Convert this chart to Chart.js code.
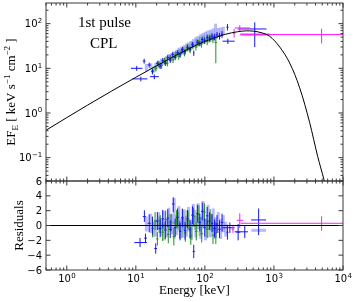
<!DOCTYPE html>
<html><head><meta charset="utf-8">
<script src="https://cdn.jsdelivr.net/npm/chart.js@4/dist/chart.umd.min.js"></script>
<style>
html,body{margin:0;padding:0;background:#fff;}
#wrap{position:relative;width:357px;height:302px;background:#fff;}
canvas{position:absolute;left:0;top:0;}
</style></head><body>
<div id="wrap"><canvas id="bot" width="357" height="302"></canvas><canvas id="top" width="357" height="302"></canvas></div>
<script>
// ---------- model curve ----------
const modelE = [0.5, 2, 10, 30, 60, 100, 200, 300, 400, 500, 650, 869, 1213, 1692, 2360, 3290, 4295, 5300, 5600];
const modelF = [0.41, 1.5, 6.3, 16, 28, 40, 58, 66, 69, 68, 63, 52, 30, 13.1, 3.65, 0.61, 0.107, 0.032, 0.022];

// ---------- spectrum points: [E, Elo, Ehi, F, Flo, Fhi] ----------
const blueTop = [
 [10.3,8.5,12.5,10.0,8.8,11.3],[11.8,9.0,14.7,5.8,5.1,6.5],[13.2,12.6,13.8,14.5,12.7,16.4],
 [15.6,14.8,16.4,11.9,10.4,13.4],[17.4,16.6,18.2,8.4,7.3,9.5],[18.5,16.0,21.5,6.5,5.7,7.3],
 [20.5,19.6,21.4,12.9,11.3,14.5],[22.5,21.5,23.5,11.2,9.7,12.7],[24.5,23.5,25.5,14.9,13.0,16.8],
 [26.7,25.5,27.9,13.0,11.3,14.7],[29.0,27.9,30.2,17.5,15.3,19.7],[31.5,30.2,32.8,15.2,13.2,17.2],
 [34.2,32.8,35.6,20.5,17.9,23.1],[37.1,35.6,38.6,17.5,15.2,19.8],[40.3,38.6,42.0,22.5,19.6,25.4],
 [43.8,42.0,45.6,20.0,17.3,22.7],[47.5,45.6,49.5,26.5,23.0,30.0],[51.6,49.5,53.8,23.5,20.3,26.7],
 [56.0,53.8,58.4,29.5,25.6,33.4],[60.8,58.4,63.4,27.0,23.3,30.7],[66.0,63.4,68.8,34.0,29.4,38.6],
 [69.0,67.5,70.5,22.0,19.0,25.0],[77.8,74.7,81.1,38.0,32.8,43.2],[84.5,81.1,88.0,36.0,31.0,41.0],
 [91.7,88.0,95.5,44.0,37.8,50.2],[99.6,95.5,103.7,41.0,35.2,46.8],[108,103.7,112.6,49.0,42.0,56.0],
 [117,112.6,122,47.0,40.0,54.0],[127,122,132,52.0,44.0,60.0],[138,132,144,50.0,42.0,58.0],
 [150,144,156,56.0,47.0,65.0],[163,156,170,53.0,44.0,62.0],[177,170,185,58.0,48.0,68.0],
 [212,205,220,83.0,70.0,98.0],[215,180,270,40.5,35.0,46.0],[527,300,780,76.0,30.0,107.0]
];
// light (thick, translucent) bars: [E, Elo, Ehi, Flo, Fhi]
const blueLightTop = [
 [14.2,14.2,14.2,8.5,12.5],[16.5,16.5,16.5,9.5,13],[19.5,19.5,19.5,9,13.5],[21.5,21.5,21.5,10,15],
 [23.5,23.5,23.5,11.5,16.5],[25.5,25.5,25.5,12,17],[28,28,28,13.5,19],[30,30,30,15,21],
 [33,33,33,15.5,22],[36,36,36,17,24],[39,39,39,18,26],[42,42,42,20,29],[46,46,46,21,31],
 [50,50,50,22,33],[54,54,54,25,36],[58,58,58,26,38],[63,63,63,28,41],[68,68,68,30,45],
 [74,74,74,33,50],[80,80,80,35,53],[87,87,87,38,58],[94,94,94,40,62],[102,102,102,42,66],
 [111,111,111,44,70],[121,121,121,47,73],[132,132,132,49,78],[143,143,143,50,100],
 [156,156,156,53,80],[170,170,170,55,82],[185,185,185,57,85],[600,320,870,57,57]
];
const greenTop = [
 [17.5,16.8,18.2,9.0,7.6,10.4],[19.5,18.7,20.3,10.0,8.5,11.5],[21.5,20.6,22.4,12.5,10.7,14.3],
 [23.6,22.6,24.6,11.5,9.8,13.2],[26.0,25.0,27.0,15.0,12.8,17.2],[28.6,27.5,29.7,13.0,11.0,15.0],
 [31.4,30.2,32.6,17.5,14.9,20.1],[34.6,33.2,36.0,15.5,13.1,17.9],[38.0,36.5,39.5,20.5,17.4,23.6],
 [41.8,40.1,43.5,18.5,15.6,21.4],[46.0,44.2,47.8,24.5,20.7,28.3],[50.6,48.6,52.6,22.0,18.5,25.5],
 [55.6,53.4,57.8,28.5,24.0,33.0],[61.2,58.8,63.6,26.0,21.8,30.2],[67.3,64.6,70.0,33.0,27.6,38.4],
 [74.0,71.0,77.0,30.0,25.0,35.0],[81.4,78.1,84.7,37.5,31.2,43.8],[89.5,85.9,93.1,35.0,29.0,41.0],
 [98.5,94.6,102.4,43.0,35.6,50.4],[108,103.7,112.3,40.0,33.0,47.0],[119,114,124,47.0,38.5,55.5],
 [131,126,136,45.0,36.5,53.5],[144,138,150,38.0,13.0,50.0]
];
const greenLightTop = [
 [18.3,18.3,18.3,8,11.5],[22.5,22.5,22.5,10,14],[27,27,27,12,17.5],[32,32,32,14,20],
 [37,37,37,16,23],[43,43,43,18,27],[49,49,49,20,30],[57,57,57,24,35],[65,65,65,26,39],
 [76,76,76,29,45],[86,86,86,32,50],[96,96,96,35,54],[112,112,112,37,58],[126,126,126,40,62],[140,140,140,42,60]
];
const magentaTop = [
 [265,255,275,61,49,76],[320,270,450,80,67,92],[4900,330,10000,57,36,77]
];

// ---------- residuals: [E, Elo, Ehi, r, rlo, rhi] ----------
const blueRes = [
 [11.5,9.5,14.5,-2.3,-2.9,-1.7],[13.3,12.6,14.0,1.2,0.5,2.05],[13.8,13.2,14.5,-1.7,-2.3,-1.1],
 [19.4,18.5,20.3,-3.1,-3.8,-2.4],[15.6,14.8,16.4,0.3,-0.9,1.5],[17.4,16.6,18.2,0.0,-1.2,1.2],
 [20.5,19.6,21.4,0.6,-0.6,1.8],[22.5,21.5,23.5,-0.4,-1.6,0.8],[24.5,23.5,25.5,0.9,-0.3,2.1],
 [26.7,25.5,27.9,-0.6,-1.8,0.6],[29.0,27.9,30.2,1.0,-0.2,2.2],[31.5,30.2,32.8,-0.5,-1.7,0.7],
 [34.8,33.3,36.3,2.9,1.8,3.8],[37.1,35.6,38.6,-0.3,-1.5,0.9],[40.3,38.6,42.0,1.1,-0.1,2.3],
 [43.8,42.0,45.6,-0.8,-2.0,0.4],[47.5,45.6,49.5,1.0,-0.2,2.2],[51.6,49.5,53.8,-0.7,-1.9,0.5],
 [56.0,53.8,58.4,0.9,-0.3,2.1],[60.8,58.4,63.4,-0.5,-1.7,0.7],[66.0,63.4,68.8,1.4,0.2,2.6],
 [69.0,66.5,71.5,-3.5,-4.4,-2.6],[77.8,74.7,81.1,1.6,0.4,2.8],[84.5,81.1,88.0,0.4,-0.8,1.6],
 [91.7,88.0,95.5,1.9,0.7,3.1],[99.6,95.5,103.7,-0.3,-1.5,0.9],[108,103.7,112.6,1.3,0.1,2.5],
 [117,112.6,122,0.6,-0.6,1.8],[127,122,132,0.3,-0.9,1.5],[138,132,144,-0.4,-1.6,0.8],
 [150,144,156,0.2,-1.0,1.4],[163,156,170,-0.5,-1.7,0.7],[177,170,185,0.4,-0.8,1.6],
 [212,205,220,-0.9,-1.9,0.1],[230,180,270,-0.3,-1.0,0.4],[303,285,325,-0.9,-2.0,0.2],
 [378,270,420,-0.85,-1.7,0.0],[600,468,770,0.75,-1.3,2.3]
];
const blueLightRes = [
 [14.2,14.2,14.2,-0.8,1.2],[16.5,16.5,16.5,-1.0,1.6],[19.5,19.5,19.5,-1.5,0.8],[21.5,21.5,21.5,-0.6,1.8],
 [23.5,23.5,23.5,-1.4,1.0],[25.5,25.5,25.5,-0.5,2.0],[28,28,28,-1.6,0.9],[30,30,30,-0.3,2.4],
 [33,33,33,-1.2,1.5],[36,36,36,0.2,3.7],[39,39,39,-1.3,1.4],[42,42,42,-0.4,2.6],[46,46,46,-1.7,0.9],
 [50,50,50,-0.6,2.2],[54,54,54,-1.5,1.3],[58,58,58,-0.8,2.5],[63,63,63,-1.9,0.8],[68,68,68,-0.2,2.9],
 [74,74,74,-1.6,1.4],[80,80,80,-0.5,3.0],[87,87,87,-1.8,1.2],[94,94,94,-0.4,3.3],[102,102,102,-2.0,1.0],
 [111,111,111,-0.6,2.8],[121,121,121,-1.6,1.6],[132,132,132,-0.8,2.3],[143,143,143,-1.7,1.1],
 [156,156,156,-1.0,1.8],[170,170,170,-1.8,0.9],[185,185,185,-0.9,1.4],[200,200,200,-1.5,0.5],
 [600,470,770,-0.65,-0.65]
];
const greenRes = [
 [17.5,16.8,18.2,-0.4,-1.6,0.8],[19.0,18.3,19.7,0.6,-0.6,1.8],[20.5,19.7,21.3,-1.8,-2.7,-0.9],
 [22.5,21.6,23.4,0.2,-1.0,1.4],[24.5,23.5,25.5,-0.9,-2.1,0.3],[27,25.9,28.1,0.8,-0.4,2.0],
 [29.5,28.3,30.7,-1.2,-2.4,0.0],[32.5,31.2,33.8,0.4,-0.8,1.6],[35.5,34.1,36.9,-1.5,-2.7,-0.3],
 [39,37.4,40.6,0.9,-0.3,2.1],[43,41.3,44.7,-0.6,-1.8,0.6],[47,45.1,48.9,1.1,-0.1,2.3],
 [52,49.9,54.1,-1.0,-2.2,0.2],[57,54.7,59.3,0.7,-0.5,1.9],[62.5,60,65,-1.4,-2.6,-0.2],
 [68.5,65.8,71.2,1.2,0.0,2.4],[75,72,78,-0.8,-2.0,0.4],[82,78.7,85.3,1.5,0.3,2.7],
 [90,86.4,93.6,-1.1,-2.3,0.1],[98.5,94.6,102.4,1.8,0.6,3.0],[108,103.7,112.3,-0.5,-1.7,0.7],
 [119,114,124,1.0,-0.2,2.2],[131,126,136,-1.3,-2.5,-0.1],[144,138,150,-1.0,-2.5,0.5]
];
const greenLightRes = [
 [18,18,18,-1.5,0.5],[22,22,22,-1.0,1.2],[26,26,26,-2.0,0.3],[31,31,31,-0.8,1.5],[36,36,36,-1.8,0.6],
 [41,41,41,-0.5,1.9],[48,48,48,-1.6,0.9],[55,55,55,-0.3,2.0],[64,64,64,-1.9,0.4],[72,72,72,-0.6,2.1],
 [85,85,85,-1.4,1.1],[96,96,96,-0.2,2.3],[110,110,110,-1.6,0.8],[125,125,125,-0.7,1.6],[140,140,140,-1.8,0.4]
];
const magentaRes = [
 [255,245,265,-0.5,-1.0,0.0],[320,290,360,0.7,-0.35,1.65],[4900,330,10000,0.3,-0.7,1.25]
];
const zeroLineE = [0.5, 10000];
const zeroLineR = [0, 0];

// ---------- tick labels ----------
const xTickExps = [0, 1, 2, 3, 4];
const yTopTickExps = [-1, 0, 1, 2];
const resTicks = [6, 4, 2, 0, -2, -4, -6];

// ---------- helpers ----------
function errDS(rows, color, width, light) {
  return {
    data: rows.map(r => light
      ? {x:r[0], y:Math.sqrt(Math.abs(r[3]*r[4]))*(r[3]<0?-1:1), xMin:r[1], xMax:r[2], yMin:r[3], yMax:r[4]}
      : {x:r[0], y:r[3], xMin:r[1], xMax:r[2], yMin:r[4], yMax:r[5]}),
    errColor: color, errWidth: width, pointRadius: 0, showLine: false
  };
}
const errPlugin = {
  id: 'errbars',
  beforeDatasetsDraw(chart) {
    const ctx = chart.ctx, a = chart.chartArea, xs = chart.scales.x, ys = chart.scales.y;
    ctx.save();
    ctx.beginPath(); ctx.rect(a.left, a.top, a.right - a.left, a.bottom - a.top); ctx.clip();
    chart.data.datasets.forEach(ds => {
      if (!ds.errColor) return;
      ctx.strokeStyle = ds.errColor; ctx.lineWidth = ds.errWidth; ctx.lineCap = 'butt';
      ds.data.forEach(p => {
        const px = xs.getPixelForValue(p.x);
        const yMid = ys.getPixelForValue(p.yMin === p.yMax ? p.yMin : p.y);
        ctx.beginPath();
        if (p.yMin !== p.yMax) {
          ctx.moveTo(px, ys.getPixelForValue(p.yMin)); ctx.lineTo(px, ys.getPixelForValue(p.yMax));
        }
        if (p.xMin !== p.xMax) {
          ctx.moveTo(xs.getPixelForValue(p.xMin), yMid); ctx.lineTo(xs.getPixelForValue(p.xMax), yMid);
        }
        ctx.stroke();
      });
    });
    ctx.restore();
  }
};
function logTickList(min, max) {
  const out = [];
  for (let e = Math.floor(Math.log10(min)); e <= Math.ceil(Math.log10(max)); e++)
    for (let m = 1; m < 10; m++) { const v = m * Math.pow(10, e); if (v >= min * 0.999 && v <= max * 1.001) out.push({v, major: m === 1}); }
  return out;
}
function supStr(e) { return e < 0 ? '\u2212' + (-e) : String(e); }
function drawPow(ctx, e, x, y, align) {
  ctx.font = '10px "DejaVu Sans"';
  const w1 = ctx.measureText('10').width;
  ctx.font = '7px "DejaVu Sans"';
  const s = supStr(e), w2 = ctx.measureText(s).width;
  const w = w1 + w2;
  const x0 = align === 'center' ? x - w / 2 : x - w;
  ctx.textAlign = 'left'; ctx.textBaseline = 'alphabetic';
  ctx.font = '10px "DejaVu Sans"'; ctx.fillText('10', x0, y);
  ctx.font = '7px "DejaVu Sans"'; ctx.fillText(s, x0 + w1 + 0.3, y - 4.2);
}
function drawRich(ctx, parts, cx, cy, rot) {
  ctx.save(); ctx.translate(cx, cy); ctx.rotate(rot);
  ctx.textAlign = 'left'; ctx.textBaseline = 'alphabetic';
  let w = 0;
  parts.forEach(p => { ctx.font = p[1] + 'px "Liberation Serif"'; p.w = ctx.measureText(p[0]).width; w += p.w; });
  let x = -w / 2;
  parts.forEach(p => { ctx.font = p[1] + 'px "Liberation Serif"'; ctx.fillText(p[0], x, p[2]); x += p.w; });
  ctx.restore();
}
const FRAME = '#3a3a3a';
function drawFrameTicks(chart, yTicks) {
  const ctx = chart.ctx, a = chart.chartArea, xs = chart.scales.x, ys = chart.scales.y;
  ctx.save();
  ctx.strokeStyle = FRAME; ctx.lineWidth = 1;
  ctx.strokeRect(a.left, a.top, a.right - a.left, a.bottom - a.top);
  ctx.beginPath();
  logTickList(xs.min, xs.max).forEach(t => {
    const px = xs.getPixelForValue(t.v), L = t.major ? 4.5 : 2.5;
    ctx.moveTo(px, a.bottom); ctx.lineTo(px, a.bottom - L);
    ctx.moveTo(px, a.top); ctx.lineTo(px, a.top + L);
  });
  yTicks.forEach(t => {
    const py = ys.getPixelForValue(t.v), L = t.major ? 4.5 : 2.5;
    ctx.moveTo(a.left, py); ctx.lineTo(a.left + L, py);
    ctx.moveTo(a.right, py); ctx.lineTo(a.right - L, py);
  });
  ctx.stroke();
  ctx.restore();
}

Chart.defaults.font.family = '"DejaVu Sans"';
Chart.defaults.animation = false;

const topPanel = {
  id: 'topPanel',
  afterDraw(chart) {
    const ctx = chart.ctx, ys = chart.scales.y;
    drawFrameTicks(chart, logTickList(ys.min, ys.max));
    ctx.save(); ctx.fillStyle = '#000';
    yTopTickExps.forEach(e => drawPow(ctx, e, 42, ys.getPixelForValue(Math.pow(10, e)) + 3.6, 'right'));
    ctx.font = '15px "Liberation Serif"'; ctx.textAlign = 'left'; ctx.textBaseline = 'alphabetic';
    ctx.fillText('1st pulse', 78, 26.5);
    ctx.fillText('CPL', 90, 48);
    drawRich(ctx, [['EF', 13, 4.5], ['E', 9, 7.5], [' [ keV s', 13, 4.5], ['\u22121', 9, -0.5], [' cm', 13, 4.5], ['\u22122', 9, -0.5], [' ]', 13, 4.5]],
      10, (chart.chartArea.top + chart.chartArea.bottom) / 2, -Math.PI / 2);
    ctx.restore();
  }
};
const botPanel = {
  id: 'botPanel',
  afterDraw(chart) {
    const ctx = chart.ctx, xs = chart.scales.x, ys = chart.scales.y, a = chart.chartArea;
    drawFrameTicks(chart, resTicks.map(v => ({v, major: true})));
    ctx.save(); ctx.fillStyle = '#000';
    ctx.font = '10px "DejaVu Sans"'; ctx.textAlign = 'right'; ctx.textBaseline = 'alphabetic';
    resTicks.forEach(v => ctx.fillText(v < 0 ? '\u2212' + (-v) : String(v), 42, ys.getPixelForValue(v) + 3.6));
    xTickExps.forEach(e => drawPow(ctx, e, xs.getPixelForValue(Math.pow(10, e)), 282, 'center'));
    drawRich(ctx, [['Energy [keV]', 13, 0]], (a.left + a.right) / 2, 294, 0);
    drawRich(ctx, [['Residuals', 13, 4.5]], 18, (a.top + a.bottom) / 2, -Math.PI / 2);
    ctx.restore();
  }
};

new Chart(document.getElementById('top'), {
  type: 'scatter',
  data: { datasets: [
    errDS(blueLightTop, 'rgba(70,70,255,0.38)', 3, true),
    errDS(greenLightTop, 'rgba(40,150,40,0.38)', 3, true),
    errDS(greenTop, '#1f8f1f', 1),
    errDS(blueTop, '#1414ff', 1),
    errDS(magentaTop, '#ff1aff', 1),
    { type: 'line', data: modelE.map((e, i) => ({x: e, y: modelF[i]})), borderColor: '#000', borderWidth: 1,
      pointRadius: 0, cubicInterpolationMode: 'monotone', fill: false }
  ]},
  options: {
    responsive: false, animation: false,
    layout: { padding: { left: 46, right: 14, top: 3, bottom: 121 } },
    plugins: { legend: { display: false }, tooltip: { enabled: false } },
    scales: {
      x: { type: 'logarithmic', min: 0.5, max: 10000, display: false },
      y: { type: 'logarithmic', min: 0.03, max: 290, display: false }
    }
  },
  plugins: [errPlugin, topPanel]
});

new Chart(document.getElementById('bot'), {
  type: 'scatter',
  data: { datasets: [
    errDS(blueLightRes, 'rgba(70,70,255,0.38)', 3, true),
    errDS(greenLightRes, 'rgba(40,150,40,0.38)', 3, true),
    errDS(greenRes, '#1f8f1f', 1),
    errDS(blueRes, '#1414ff', 1),
    errDS(magentaRes, '#ff1aff', 1),
    { type: 'line', data: zeroLineE.map((e, i) => ({x: e, y: zeroLineR[i]})), borderColor: '#000', borderWidth: 1,
      pointRadius: 0, fill: false }
  ]},
  options: {
    responsive: false, animation: false,
    layout: { padding: { left: 46, right: 14, top: 181, bottom: 32 } },
    plugins: { legend: { display: false }, tooltip: { enabled: false } },
    scales: {
      x: { type: 'logarithmic', min: 0.5, max: 10000, display: false },
      y: { type: 'linear', min: -6, max: 6, display: false }
    }
  },
  plugins: [errPlugin, botPanel]
});
</script>
</body></html>
